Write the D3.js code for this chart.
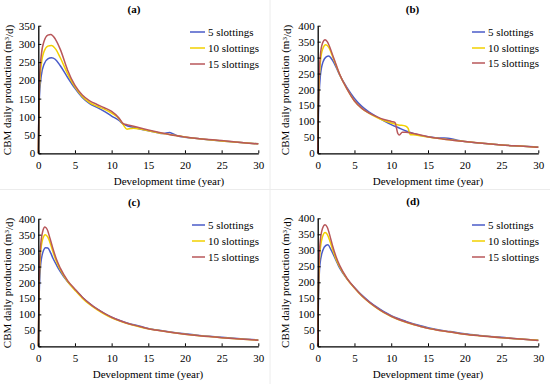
<!DOCTYPE html>
<html>
<head>
<meta charset="utf-8">
<script src="https://cdn.jsdelivr.net/npm/d3@7"></script>
<style>
    body { margin: 0; background: #fff; }
    svg { display: block; font-family: "Liberation Serif", "Times New Roman", serif; }
</style>
</head>
<body>
<div id="chart"></div>
<script>
// series names / colours
const seriesNames = ['5 slottings', '10 slottings', '15 slottings'];
const seriesColors = ['#4a5bc8', '#f2d000', '#b8575a'];
const xTicks = [0, 5, 10, 15, 20, 25, 30];

// (a) [time (year), production (m3/d)]
const a5 = [[0, 0], [0.12, 140], [0.4, 212], [0.8, 245], [1.3, 259], [1.8, 262], [2.3, 258], [3, 240], [4, 208], [5, 178], [6, 153], [7, 136], [8, 126], [9, 115], [10, 102], [11, 90], [11.6, 80], [12.2, 75], [13, 71], [14, 66], [15, 62], [16, 58], [17, 54], [17.9, 57], [18.4, 53], [19, 48], [20, 44], [22, 40], [25, 34], [28, 29], [30, 26]];
const a10 = [[0, 0], [0.12, 160], [0.4, 242], [0.8, 280], [1.3, 294], [1.8, 296], [2.4, 285], [3, 262], [4, 218], [5, 182], [6, 156], [7, 139], [8, 129], [9, 121], [10, 110], [11, 95], [11.6, 78], [12.1, 66], [12.6, 68], [13, 69], [15, 62], [17, 54], [18, 51], [20, 45], [22, 40], [25, 34], [28, 29], [30, 26]];
const a15 = [[0, 0], [0.12, 180], [0.4, 268], [0.8, 308], [1.3, 324], [1.7, 326], [2.3, 314], [3, 285], [4, 228], [5, 186], [6, 160], [7, 144], [8, 134], [9, 125], [10, 115], [11, 97], [11.6, 81], [12.2, 78], [13, 74], [15, 64], [17, 55], [18, 51], [20, 45], [22, 40], [25, 35], [28, 29], [30, 26]];

// (b)
const b5 = [[0, 0], [0.1, 120], [0.35, 240], [0.7, 285], [1.2, 303], [1.5, 305], [2, 292], [2.5, 270], [3, 245], [4, 205], [5, 172], [6, 147], [7, 129], [8, 115], [9, 102], [10, 90], [11, 80], [12, 70], [13, 62], [14, 56], [15, 52], [16, 49], [17, 48], [17.7, 47], [18.6, 43], [20, 37], [22, 32], [25, 26], [28, 22], [30, 20]];
const b10 = [[0, 0], [0.1, 160], [0.35, 282], [0.65, 325], [1.1, 340], [1.5, 332], [2, 305], [2.5, 275], [3, 246], [4, 201], [5, 164], [6, 141], [7, 125], [8, 113], [9, 103], [10, 95], [11, 89], [12, 85], [12.3, 78], [12.6, 58], [13, 58], [14, 55], [15, 51], [17, 45], [20, 37], [22, 32], [25, 26], [28, 22], [30, 19]];
const b15 = [[0, 0], [0.1, 180], [0.35, 305], [0.65, 345], [1, 356], [1.3, 350], [2, 310], [2.5, 278], [3, 247], [4, 201], [5, 164], [6, 141], [7, 126], [8, 115], [9, 106], [10, 100], [10.5, 97], [10.9, 62], [11.1, 57], [11.5, 66], [12, 66], [13, 62], [15, 52], [17, 45], [20, 37], [22, 32], [25, 26], [28, 22], [30, 19]];

// (c)
const c5 = [[0, 0], [0.1, 140], [0.3, 250], [0.6, 293], [1, 309], [1.3, 308], [1.7, 292], [2, 276], [2.5, 254], [3, 234], [4, 202], [5, 178], [6, 154], [7, 134], [8, 117], [9, 103], [10, 91], [12, 74], [14, 62], [15, 56], [16, 52], [18, 45], [20, 39], [22, 34], [25, 28], [28, 23], [30, 20]];
const c10 = [[0, 0], [0.1, 170], [0.3, 288], [0.6, 336], [0.95, 350], [1.3, 342], [1.7, 318], [2, 296], [2.5, 264], [3, 240], [4, 203], [5, 176], [6, 151], [7, 131], [8, 115], [9, 101], [10, 89], [12, 72], [14, 60], [15, 55], [16, 51], [18, 44], [20, 38], [22, 33], [25, 27], [28, 22], [30, 19]];
const c15 = [[0, 0], [0.1, 190], [0.3, 310], [0.6, 360], [0.9, 374], [1.2, 367], [1.6, 338], [2, 306], [2.5, 271], [3, 245], [4, 206], [5, 179], [6, 154], [7, 134], [8, 117], [9, 103], [10, 91], [12, 73], [14, 61], [15, 55], [16, 51], [18, 44], [20, 38], [22, 33], [25, 27], [28, 22], [30, 19]];

// (d)
const d5 = [[0, 0], [0.1, 140], [0.3, 255], [0.7, 300], [1.1, 315], [1.4, 317], [1.8, 302], [2.2, 283], [2.7, 258], [3, 244], [4, 210], [5, 184], [6, 160], [7, 140], [8, 123], [9, 108], [10, 96], [12, 78], [14, 64], [15, 58], [16, 53], [18, 46], [20, 39], [22, 34], [25, 28], [28, 22], [30, 19]];
const d10 = [[0, 0], [0.1, 175], [0.3, 292], [0.65, 342], [1, 356], [1.3, 350], [1.7, 326], [2, 305], [2.5, 272], [3, 248], [4, 210], [5, 182], [6, 157], [7, 137], [8, 120], [9, 105], [10, 93], [12, 75], [14, 62], [15, 56], [16, 52], [18, 45], [20, 38], [22, 33], [25, 27], [28, 22], [30, 19]];
const d15 = [[0, 0], [0.1, 195], [0.3, 318], [0.65, 368], [1, 380], [1.3, 372], [1.7, 342], [2, 316], [2.5, 280], [3, 252], [4, 212], [5, 183], [6, 158], [7, 138], [8, 121], [9, 106], [10, 94], [12, 76], [14, 62], [15, 56], [16, 52], [18, 45], [20, 38], [22, 33], [25, 27], [28, 22], [30, 18]];

const panels = [
    { label: '(a)', series: [a5, a10, a15], yMax: 350, x: [38.3, 258.3], y: [153.3, 25.7], titleX: 134, titleY: 9.5, xLabelX: 169, yLabelX: 7.5, legend: { x1: 190, x2: 205, y: [32, 48, 64] } },
    { label: '(b)', series: [b5, b10, b15], yMax: 400, x: [317.7, 538.3], y: [153.3, 25.7], titleX: 412.5, titleY: 9.5, xLabelX: 428, yLabelX: 285.5, legend: { x1: 472, x2: 485, y: [32, 48, 63] } },
    { label: '(c)', series: [c5, c10, c15], yMax: 400, x: [38.3, 258.3], y: [346.3, 218.7], titleX: 134, titleY: 202, xLabelX: 148, yLabelX: 7.5, legend: { x1: 192, x2: 205, y: [225, 241, 257] } },
    { label: '(d)', series: [d5, d10, d15], yMax: 400, x: [317.7, 538.3], y: [346.3, 218.3], titleX: 413, titleY: 201.5, xLabelX: 428, yLabelX: 285.5, legend: { x1: 472, x2: 485, y: [225, 241, 257] } }
];

const svg = d3.select('#chart')
    .append('svg')
    .attr('width', 550)
    .attr('height', 384);

// faint frame lines between the sub-figures
svg.append('line').attr('x1', 270).attr('x2', 270).attr('y1', 0).attr('y2', 384)
    .attr('stroke', '#ececec').attr('stroke-width', 1);
svg.append('line').attr('x1', 0).attr('x2', 550).attr('y1', 189.5).attr('y2', 189.5)
    .attr('stroke', '#ececec').attr('stroke-width', 1);

panels.forEach(p => {
    const g = svg.append('g');

    const x = d3.scaleLinear().domain([0, 30]).range(p.x);
    const y = d3.scaleLinear().domain([0, p.yMax]).range(p.y);

    // Lines
    const line = d3.line()
        .x(d => x(d[0]))
        .y(d => y(d[1]))
        .curve(d3.curveMonotoneX);

    p.series.forEach((s, i) => {
        g.append('path')
            .datum(s)
            .attr('d', line)
            .attr('fill', 'none')
            .attr('stroke', seriesColors[i])
            .attr('stroke-width', 1.5);
    });

    // Axes (ticks point inward)
    const xAxis = g.append('g')
        .attr('transform', `translate(0,${p.y[0]})`)
        .call(d3.axisBottom(x).tickValues(xTicks).tickSizeInner(-3).tickSizeOuter(0).tickPadding(8));

    const yAxis = g.append('g')
        .attr('transform', `translate(${p.x[0]},0)`)
        .call(d3.axisLeft(y).ticks(p.yMax / 50).tickSizeInner(-3).tickSizeOuter(0).tickPadding(3));

    [xAxis, yAxis].forEach(a => {
        a.select('.domain').attr('stroke', '#000').attr('stroke-width', 1.3);
        a.selectAll('.tick line').attr('stroke', '#000');
        a.selectAll('.tick text')
            .attr('fill', '#000')
            .style('font-size', '11px')
            .style('font-family', '"Liberation Serif", serif');
    });

    // Titles
    g.append('text')
        .attr('x', p.titleX)
        .attr('y', p.titleY)
        .attr('dy', '0.35em')
        .attr('text-anchor', 'middle')
        .style('font-size', '11px')
        .style('font-weight', 'bold')
        .text(p.label);

    g.append('text')
        .attr('x', p.xLabelX)
        .attr('y', p.y[0] + 28)
        .attr('dy', '0.35em')
        .attr('text-anchor', 'middle')
        .style('font-size', '11px')
        .text('Development time (year)');

    const yMid = (p.y[0] + p.y[1]) / 2 + 0.5;
    const yl = g.append('text')
        .attr('transform', `translate(${p.yLabelX},${yMid}) rotate(-90)`)
        .attr('dy', '0.35em')
        .attr('text-anchor', 'middle')
        .style('font-size', '11px');
    yl.append('tspan').text('CBM daily production (m');
    yl.append('tspan').attr('dy', '-0.35em').style('font-size', '7px').text('3');
    yl.append('tspan').attr('dy', '0.35em').text('/d)');

    // Legend
    seriesNames.forEach((name, i) => {
        const ly = p.legend.y[i];
        g.append('line')
            .attr('x1', p.legend.x1).attr('x2', p.legend.x2)
            .attr('y1', ly).attr('y2', ly)
            .attr('stroke', seriesColors[i])
            .attr('stroke-width', 1.5);
        g.append('text')
            .attr('x', p.legend.x2 + 3)
            .attr('y', ly)
            .attr('dy', '0.35em')
            .style('font-size', '11px')
            .text(name);
    });
});
</script>
</body>
</html>
